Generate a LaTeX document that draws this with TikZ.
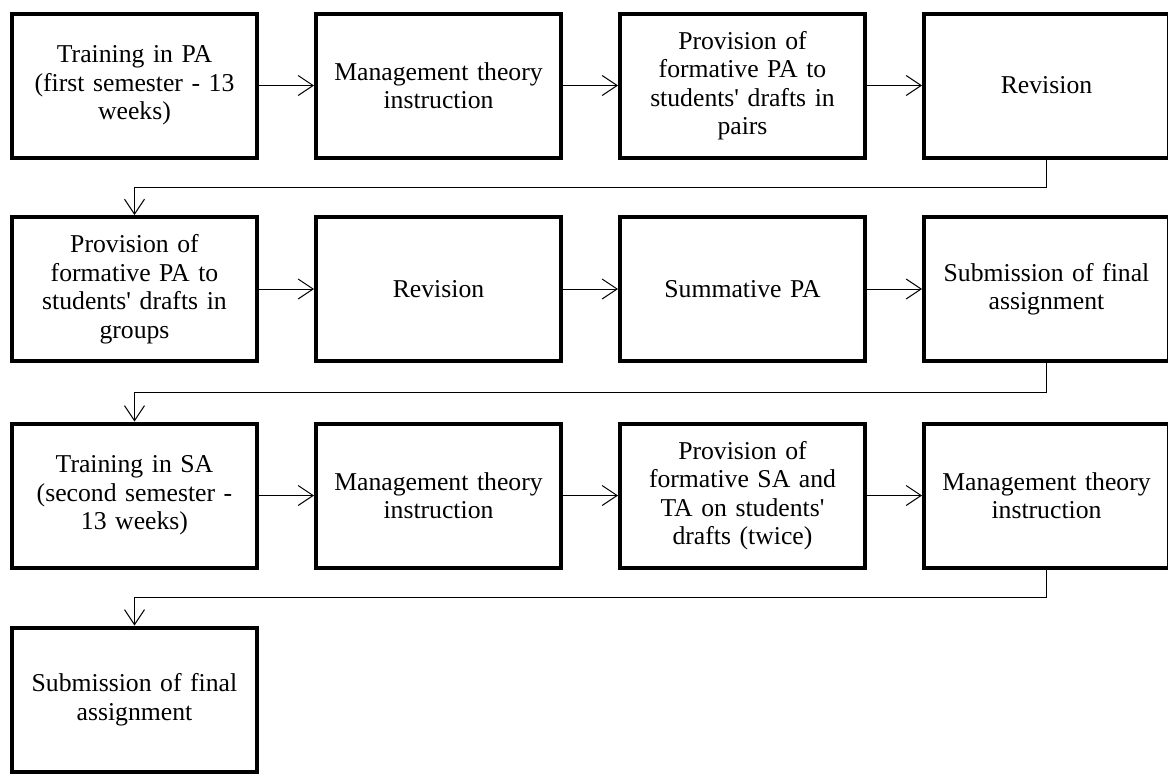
\documentclass[tikz,border=0pt]{standalone}
\usepackage{fontspec}
\setmainfont{Liberation Serif}
\usetikzlibrary{arrows.meta}
\begin{document}
\begin{tikzpicture}[x=1pt,y=-1pt,
  box/.style={draw, line width=4pt, minimum width=245pt, minimum height=144pt,
    inner sep=0pt, align=center, text width=240pt,
    font=\fontsize{25.7}{28.5}\selectfont},
  conn/.style={line width=1pt, -{Straight Barb[length=15pt,width=20pt,line width=1pt]}}
]
\useasboundingbox (0,0) rectangle (1168,774);
\fill[white] (0,0) rectangle (1168,774);
% row 1
\node[box] (a1) at (134.5,85.5) {Training in PA\\(first semester - 13\\weeks)};
\node[box] (a2) at (438.5,85.5) {Management theory\\instruction};
\node[box] (a3) at (742.5,85.5) {Provision of\\formative PA to\\students\textquotesingle{} drafts in\\pairs};
\node[box] (a4) at (1046.5,85.5) {Revision};
% row 2
\node[box] (b1) at (134.5,289) {Provision of\\formative PA to\\students\textquotesingle{} drafts in\\groups};
\node[box] (b2) at (438.5,289) {Revision};
\node[box] (b3) at (742.5,289) {Summative PA};
\node[box] (b4) at (1046.5,289) {Submission of final\\assignment};
% row 3
\node[box] (c1) at (134.5,495.5) {Training in SA\\(second semester -\\13 weeks)};
\node[box] (c2) at (438.5,495.5) {Management theory\\instruction};
\node[box] (c3) at (742.5,495.5) {Provision of\\formative SA and\\TA on students\textquotesingle\\drafts (twice)};
\node[box] (c4) at (1046.5,495.5) {Management theory\\instruction};
% row 4
\node[box] (d1) at (134.5,699.5) {Submission of final\\assignment};
% connectors
\draw[conn] (a1) -- (a2);
\draw[conn] (a2) -- (a3);
\draw[conn] (a3) -- (a4);
\draw[conn] (b1) -- (b2);
\draw[conn] (b2) -- (b3);
\draw[conn] (b3) -- (b4);
\draw[conn] (c1) -- (c2);
\draw[conn] (c2) -- (c3);
\draw[conn] (c3) -- (c4);
\draw[conn] (a4.south) -- ++(0,28) -| (b1.north);
\draw[conn] (b4.south) -- ++(0,29) -| (c1.north);
\draw[conn] (c4.south) -- ++(0,28) -| (d1.north);
\end{tikzpicture}
\end{document}
